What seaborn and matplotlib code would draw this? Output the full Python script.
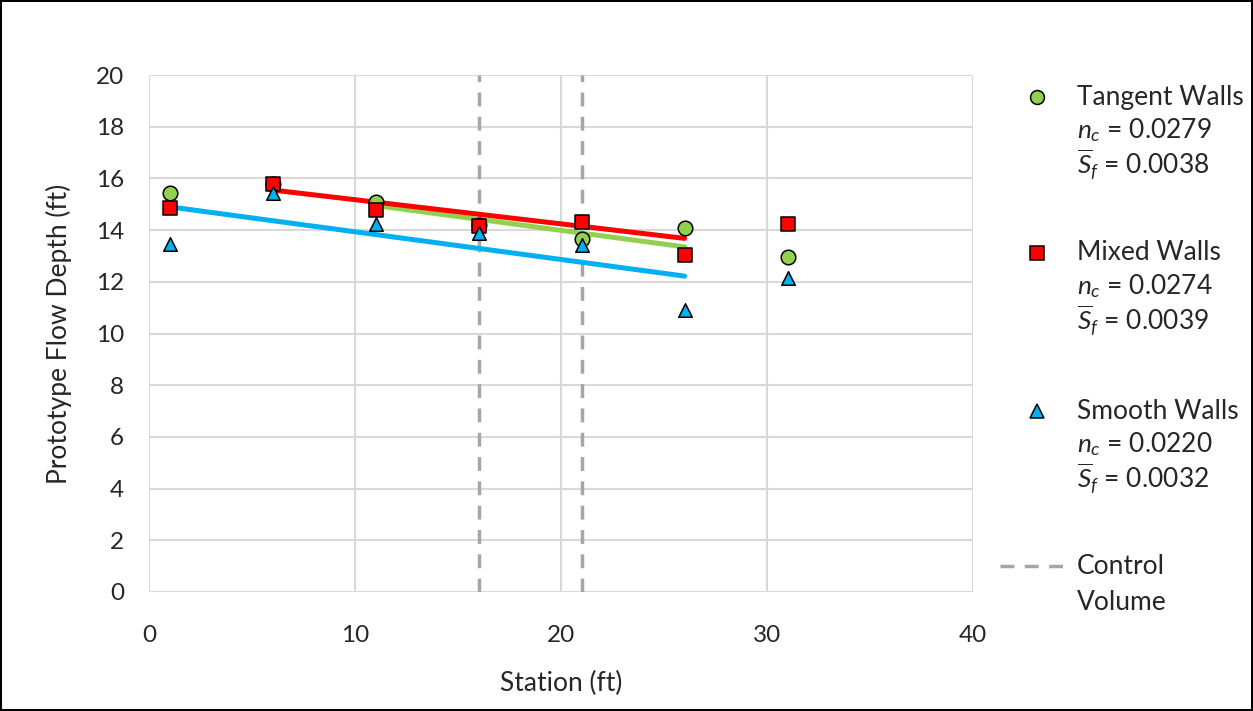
import numpy as np
import pandas as pd
import matplotlib.pyplot as plt
import seaborn as sns
from matplotlib.lines import Line2D

stations = [1, 6, 11, 16, 21, 26, 31]
tangent = [15.43, 15.8, 15.1, 14.2, 13.65, 14.08, 12.96]
mixed = [14.85, 15.78, 14.78, 14.16, 14.31, 13.04, 14.24]
smooth = [13.46, 15.43, 14.24, 13.89, 13.42, 10.9, 12.15]

# fitted lines (end points)
fit_tangent_x = [11, 26]
fit_tangent_y = [14.95, 13.35]
fit_mixed_x = [6, 26]
fit_mixed_y = [15.55, 13.68]
fit_smooth_x = [1, 26]
fit_smooth_y = [14.9, 12.22]

control_volume = [16, 21]

series_names = ["Tangent Walls", "Mixed Walls", "Smooth Walls"]
n_c = ["0.0279", "0.0274", "0.0220"]
s_f = ["0.0038", "0.0039", "0.0032"]

GREEN, RED, BLUE = "#92D050", "#FF0000", "#00B0F0"
GRID = "#D9D9D9"
FS = 17.5
AFS = 19
LFS = 19

sns.set_style("white")
plt.rcParams["font.family"] = ["Lato", "DejaVu Sans"]
plt.rcParams["mathtext.fontset"] = "custom"
plt.rcParams["mathtext.it"] = "Lato:italic"
plt.rcParams["mathtext.rm"] = "Lato"

fig = plt.figure(figsize=(12.53, 7.11), dpi=100)
fig.patch.set_edgecolor("black")
fig.patch.set_linewidth(1.5)
ax = fig.add_axes([149 / 1253, 1 - 592 / 711, (973 - 149) / 1253, (592 - 75) / 711])

for x in control_volume:
    ax.axvline(x, color="#A6A6A6", lw=2.5, ls=(0, (4, 3)), zorder=2)

sns.lineplot(x=fit_tangent_x, y=fit_tangent_y, color=GREEN, lw=3.6, ax=ax, zorder=3)
sns.lineplot(x=fit_mixed_x, y=fit_mixed_y, color=RED, lw=3.6, ax=ax, zorder=3)
sns.lineplot(x=fit_smooth_x, y=fit_smooth_y, color=BLUE, lw=3.6, ax=ax, zorder=3)

df = pd.DataFrame({"station": stations, "tangent": tangent, "mixed": mixed, "smooth": smooth})
sns.scatterplot(data=df, x="station", y="tangent", marker="o", s=110, color=GREEN,
                edgecolor="black", linewidth=1.1, ax=ax, zorder=4)
sns.scatterplot(data=df, x="station", y="mixed", marker="s", s=100, color=RED,
                edgecolor="black", linewidth=1.1, ax=ax, zorder=5)
sns.scatterplot(data=df, x="station", y="smooth", marker="^", s=95, color=BLUE,
                edgecolor="black", linewidth=1.1, ax=ax, zorder=6)

ax.set_xlim(0, 40)
ax.set_ylim(0, 20)
ax.set_xticks(range(0, 41, 10))
ax.set_yticks(range(0, 21, 2))
ax.grid(True, color=GRID, lw=1.5)
ax.set_axisbelow(True)
for s in ax.spines.values():
    s.set_visible(False)
ax.tick_params(length=0, labelsize=FS)
ax.tick_params(axis="x", pad=24)
ax.tick_params(axis="y", pad=18)
ax.set_xlabel("Station (ft)", fontsize=AFS, labelpad=18)
ax.set_ylabel("Prototype Flow Depth (ft)", fontsize=AFS, labelpad=17)

# legend, drawn by hand
def px(x, y):
    return x / 1253, 1 - y / 711

markers = ["o", "s", "^"]
colors = [GREEN, RED, BLUE]
tops = [97, 253, 411]
for name, nc, sf, m, c, top in zip(series_names, n_c, s_f, markers, colors, tops):
    mx, my = px(1037, top)
    fig.add_artist(Line2D([mx], [my], marker=m, markersize=10, color=c,
                          markeredgecolor="black", markeredgewidth=1.1,
                          transform=fig.transFigure, ls="none"))
    tx, ty = px(1077, top)
    fig.text(tx, ty, name, fontsize=LFS, va="center")
    fig.text(tx, px(0, top + 33)[1], "$n_c$ = " + nc, fontsize=LFS, va="center")
    fig.text(tx, px(0, top + 68)[1], r"$\overline{S}_f$ = " + sf, fontsize=LFS, va="center")

x0, y0 = px(1000, 566)
x1, _ = px(1072, 566)
fig.add_artist(Line2D([x0, x1], [y0, y0], color="#A6A6A6", lw=2.5, ls=(0, (4, 3)),
                      transform=fig.transFigure))
fig.text(px(1077, 0)[0], y0, "Control", fontsize=LFS, va="center")
fig.text(px(1077, 0)[0], px(0, 603)[1], "Volume", fontsize=LFS, va="center")

fig.savefig("out.png", dpi=100, edgecolor=fig.get_edgecolor())
